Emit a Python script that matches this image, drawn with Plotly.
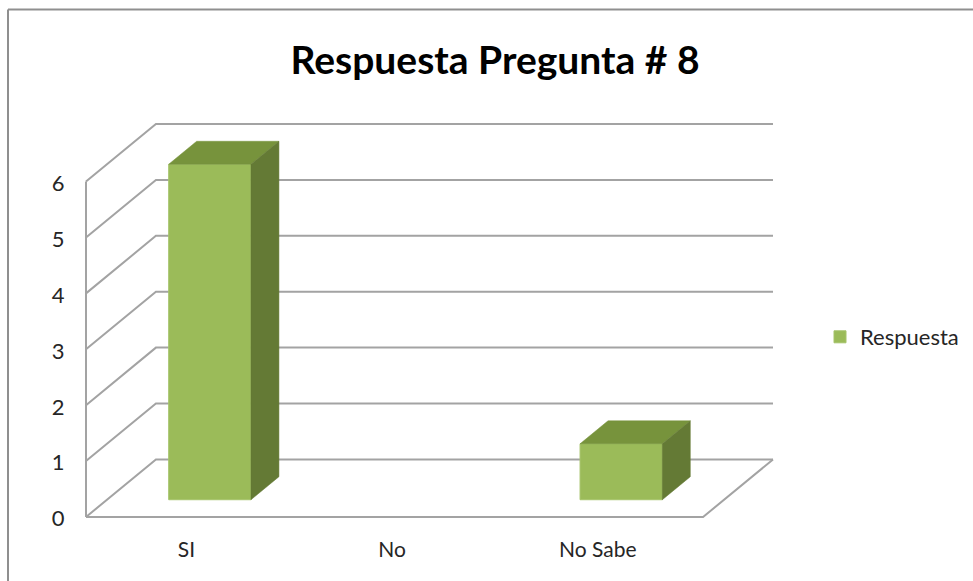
import plotly.graph_objects as go

categories = ["SI", "No", "No Sabe"]
values = [6, 0, 1]
y_ticks = [0, 1, 2, 3, 4, 5, 6]
series_name = "Respuesta"
title_text = "Respuesta Pregunta # 8"

W, H = 973, 581
PAD = 3                                # room so edge lines are not clipped
L, R, T, B = 86 - PAD, 773 + PAD, 124 - PAD, 517 + PAD
FONT = "Lato"
GREY = "#A3A3A3"
FRAME = "#8F8F8F"
TXT = "#262626"
FRONT, TOP, SIDE = "#9BBB59", "#77933C", "#647A35"

n = len(categories)
depth_x, depth_y = 0.34, 1.03          # oblique projection of the chart floor
bar_w = 0.40
near, far = 0.30, 0.70                 # bar's extent along the depth

xmax, ymax = n + depth_x, max(y_ticks) + depth_y
padx = PAD * xmax / (R - L - 2 * PAD)
pady = PAD * ymax / (B - T - 2 * PAD)
centers = [i + 0.5 for i in range(n)]

fig = go.Figure()

# walls: each gridline runs along the side wall, then along the back wall
for v in y_ticks:
    fig.add_trace(go.Scatter(
        x=[0, depth_x, n + depth_x], y=[v, v + depth_y, v + depth_y],
        mode="lines", line=dict(color=GREY, width=2),
        showlegend=False, hoverinfo="skip", xaxis="x", yaxis="y"))
# floor and vertical axis
fig.add_trace(go.Scatter(
    x=[0, n, n + depth_x], y=[0, 0, depth_y],
    mode="lines", line=dict(color=GREY, width=2),
    showlegend=False, hoverinfo="skip", xaxis="x", yaxis="y"))
fig.add_trace(go.Scatter(
    x=[0, 0], y=[0, max(y_ticks)],
    mode="lines", line=dict(color=GREY, width=2),
    showlegend=False, hoverinfo="skip", xaxis="x", yaxis="y"))

# bars: front faces
base = near * depth_y
fx = [c + near * depth_x for c in centers]
fig.add_trace(go.Bar(
    x=fx, y=values, base=base, width=bar_w, name=series_name,
    marker=dict(color=FRONT, line=dict(color="#A6C46B", width=[1 if v > 0 else 0 for v in values])),
    xaxis="x2", yaxis="y2", showlegend=True, hoverinfo="skip"))

# bars: top and side faces, projected from the values
d = (far - near)
for cx, v in zip(fx, values):
    if v <= 0:
        continue
    x0, x1 = cx - bar_w / 2, cx + bar_w / 2
    y0, y1 = base, base + v
    ox, oy = d * depth_x, d * depth_y
    fig.add_trace(go.Scatter(
        x=[x0, x1, x1 + ox, x0 + ox, x0], y=[y1, y1, y1 + oy, y1 + oy, y1],
        mode="lines", fill="toself", fillcolor=TOP, line=dict(color=TOP, width=0.5),
        showlegend=False, hoverinfo="skip", xaxis="x2", yaxis="y2"))
    fig.add_trace(go.Scatter(
        x=[x1, x1 + ox, x1 + ox, x1, x1], y=[y0, y0 + oy, y1 + oy, y1, y0],
        mode="lines", fill="toself", fillcolor=SIDE, line=dict(color=SIDE, width=0.5),
        showlegend=False, hoverinfo="skip", xaxis="x2", yaxis="y2"))

xr = [-padx, xmax + padx]
yr = [-pady, ymax + pady]
fig.update_layout(
    width=W, height=H, autosize=False,
    margin=dict(l=L, r=W - R, t=T, b=H - B, pad=0, autoexpand=False),
    paper_bgcolor="white", plot_bgcolor="white",
    font=dict(family=FONT, color=TXT, size=21),
    title=dict(text=f"<b>{title_text}</b>", x=495 / W, xref="container", xanchor="center",
               y=1 - 60 / H, yref="container", yanchor="middle",
               font=dict(family=FONT, size=39, color="#000000")),
    barmode="overlay",
    xaxis=dict(range=xr, tickmode="array", tickvals=[c - 0.012 for c in centers],
               ticktext=categories, showgrid=False, zeroline=False, showline=False,
               ticks="outside", ticklen=11, tickcolor="rgba(0,0,0,0)", tickwidth=1,
               tickfont=dict(family=FONT, size=21, color=TXT)),
    yaxis=dict(range=yr, tickmode="array", tickvals=[v - 0.03 for v in y_ticks],
               ticktext=[str(v) for v in y_ticks], showgrid=False, zeroline=False, showline=False,
               ticks="outside", ticklen=13, tickcolor="rgba(0,0,0,0)", tickwidth=1,
               tickfont=dict(family=FONT, size=22, color=TXT)),
    xaxis2=dict(range=xr, overlaying="x", visible=False),
    yaxis2=dict(range=yr, overlaying="y", visible=False),
    legend=dict(x=(820 - L) / (R - L), xanchor="left", y=(B - 337) / (B - T), yanchor="middle",
                bgcolor="rgba(0,0,0,0)", font=dict(family=FONT, size=22, color=TXT)),
    shapes=[
        dict(type="line", xref="paper", yref="paper", layer="below",
             x0=(8 - L) / (R - L), x1=(W - L) / (R - L),
             y0=(B - 9.5) / (B - T), y1=(B - 9.5) / (B - T), line=dict(color=FRAME, width=2)),
        dict(type="line", xref="paper", yref="paper", layer="below",
             x0=(8 - L) / (R - L), x1=(8 - L) / (R - L),
             y0=(B - 9.5) / (B - T), y1=(B - H) / (B - T), line=dict(color=FRAME, width=2)),
    ],
)

fig.write_html("out.html", config={"displayModeBar": False},
               post_script="document.body.style.margin='0';document.documentElement.style.overflow='hidden';")
